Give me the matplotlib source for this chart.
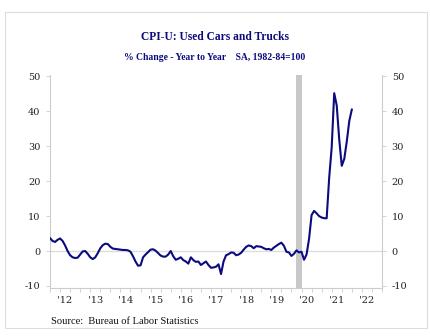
import numpy as np
import matplotlib
matplotlib.use("Agg")
import matplotlib.pyplot as plt
from matplotlib.patches import Rectangle

# CPI-U used cars & trucks, % change year to year, monthly Jan 2012 - Jan 2022
valores = [
    # 2012
    3.7, 2.9, 2.6, 3.2, 3.6, 2.9, 1.6, 0.0, -1.2, -1.8, -2.0, -1.9,
    # 2013
    -1.0, -0.1, 0.0, -0.8, -1.8, -2.3, -1.8, -0.6, 0.8, 1.7, 2.1, 2.0,
    # 2014
    1.2, 0.7, 0.6, 0.5, 0.4, 0.3, 0.3, 0.2, -0.2, -1.5, -3.0, -4.2,
    # 2015
    -4.1, -1.8, -1.0, -0.3, 0.4, 0.5, 0.1, -0.6, -1.3, -1.6, -1.6, -1.0,
    # 2016
    0.0, -1.5, -2.5, -2.2, -1.8, -2.6, -3.0, -3.6, -1.8, -2.6, -3.1, -3.0,
    # 2017
    -4.0, -3.5, -3.0, -4.0, -4.8, -4.7, -4.5, -3.8, -6.6, -3.0, -1.2, -0.9,
    # 2018
    -0.4, -0.5, -1.2, -1.0, -0.5, 0.4, 1.2, 1.6, 1.4, 0.8, 1.4, 1.3,
    # 2019
    1.2, 0.8, 0.5, 0.6, 0.3, 1.0, 1.5, 2.0, 2.4, 1.5, -0.2, -0.4,
    # 2020
    -1.4, -0.8, 0.2, -0.4, -0.2, -2.5, -1.0, 3.5, 10.3, 11.5, 10.8, 10.0,
    # 2021
    9.6, 9.4, 9.4, 21.0, 29.7, 45.2, 41.7, 31.9, 24.4, 26.4, 31.4, 37.3,
    # 2022
    40.5,
]
anos = [2012 + i / 12 for i in range(len(valores))]

recessao = (2020 + 2 / 12, 2020 + 4 / 12)
anos_rotulo = list(range(2012, 2023))
rotulos_x = ["'" + str(a)[2:] for a in anos_rotulo]
ticks_y = [-10, 0, 10, 20, 30, 40, 50]

azul = "#0b0b7e"
cinza = "#c8c8c8"
serif = "DejaVu Serif"
serif_titulo = "Liberation Serif"

fig = plt.figure(figsize=(4.30, 3.36), dpi=100)
fig.patch.set_facecolor("white")

# moldura clara em volta de tudo
fig.add_artist(Rectangle((5 / 430, 1 - 328 / 336), 422 / 430, 316 / 336,
                         transform=fig.transFigure, fill=False,
                         edgecolor="#dddddd", linewidth=0.8))

ax = fig.add_axes([50 / 430, 1 - 287.7 / 336, 332 / 430, 213 / 336])

ax.axvspan(recessao[0], recessao[1], color=cinza, linewidth=0, zorder=1)
ax.axhline(0, color="#dddddd", linewidth=1.0, zorder=1)
ax.plot(anos, valores, color=azul, linewidth=1.5, zorder=3)

ax.set_xlim(2012, 2023)
ax.set_ylim(-10.5, 50.5)

ax.spines["top"].set_visible(False)
for lado in ["left", "right", "bottom"]:
    ax.spines[lado].set_color("#cccccc")
    ax.spines[lado].set_linewidth(0.8)

# rótulos dos anos no meio de cada ano, marcas a cada 4 meses
ax.set_xticks([a + 0.5 for a in anos_rotulo])
ax.set_xticklabels(rotulos_x, fontfamily=serif, fontsize=7, color="#222222")
ax.set_xticks(np.arange(2012, 2023.01, 1 / 3), minor=True)
ax.tick_params(axis="x", which="major", length=0, pad=6)
ax.tick_params(axis="x", which="minor", length=3, color="#cccccc", width=0.6)

ax.set_yticks(ticks_y)
ax.set_yticklabels([str(v) for v in ticks_y],
                   fontfamily=serif, fontsize=7, color="#222222")
ax.tick_params(axis="y", which="both", length=3, color="#cccccc", width=0.6,
               left=True, right=True, labelleft=True, labelright=True, pad=4)

fig.text(215 / 430, 1 - 37 / 336, "CPI-U: Used Cars and Trucks",
         ha="center", va="center", fontfamily=serif_titulo, fontweight="bold",
         fontsize=8.3, color=azul)
fig.text(215 / 430, 1 - 58 / 336, "% Change - Year to Year    SA, 1982-84=100",
         ha="center", va="center", fontfamily=serif_titulo, fontweight="bold",
         fontsize=6.9, color=azul)
fig.text(51 / 430, 1 - 322 / 336, "Source:  Bureau of Labor Statistics",
         ha="left", va="center", fontfamily=serif_titulo, fontsize=7.6,
         color="#111111")

fig.savefig("out.png", dpi=100, facecolor="white")
